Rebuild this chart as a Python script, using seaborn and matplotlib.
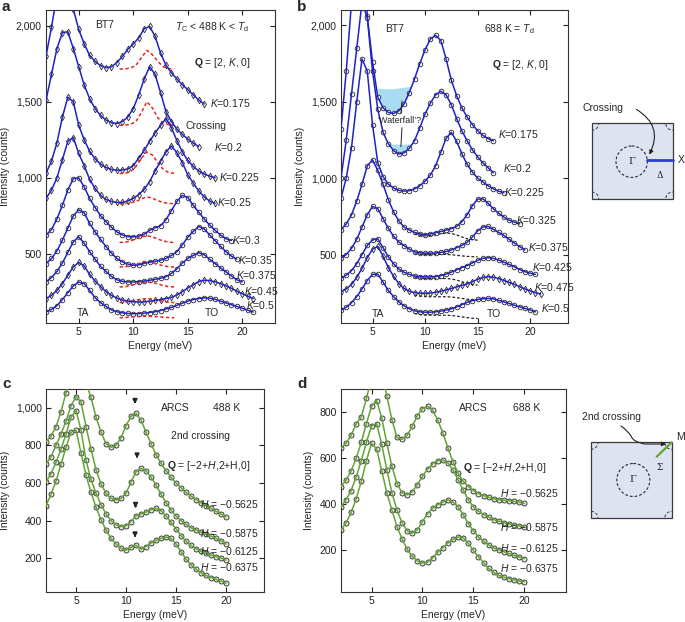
import numpy as np
import pandas as pd
import matplotlib.pyplot as plt
import seaborn as sns
from matplotlib.ticker import FuncFormatter
from matplotlib.patches import Rectangle, Circle, FancyArrowPatch
from matplotlib.path import Path

# energy grid shared by every panel (meV); each curve uses the first len(values) points
energy = [2.0, 2.5, 3.0, 3.5, 4.0, 4.5, 5.0, 5.5, 6.0, 6.5, 7.0, 7.5, 8.0, 8.5,
          9.0, 9.5, 10.0, 10.5, 11.0, 11.5, 12.0, 12.5, 13.0, 13.5, 14.0, 14.5,
          15.0, 15.5, 16.0, 16.5, 17.0, 17.5, 18.0, 18.5, 19.0, 19.5, 20.0, 20.5, 21.0]

# ---- panel a : BT7, Tc < 488 K < Td, Q = [2, K, 0]
a_k0175 = [1800, 1990, 2200, 2380, 2330, 2110, 1975, 1880, 1805, 1765, 1738, 1724, 1730, 1758, 1798,
           1845, 1880, 1920, 1980, 1995, 1930, 1820, 1740, 1690, 1650, 1612, 1580, 1545, 1512, 1485]
a_k0200 = [1510, 1680, 1850, 1955, 1960, 1850, 1730, 1610, 1520, 1455, 1410, 1380, 1362, 1357, 1370,
           1400, 1455, 1545, 1650, 1730, 1680, 1560, 1435, 1370, 1320, 1285, 1255, 1228, 1205]
a_k0225 = [1030, 1110, 1230, 1400, 1530, 1500, 1345, 1250, 1175, 1125, 1090, 1068, 1055, 1050, 1052,
           1058, 1080, 1130, 1180, 1240, 1295, 1345, 1390, 1330, 1245, 1170, 1115, 1075, 1045, 1025,
           1012, 1000]
a_k0250 = [865, 920, 1000, 1120, 1240, 1265, 1160, 1080, 990, 930, 885, 858, 845, 838, 838, 848, 865,
           890, 925, 975, 1045, 1110, 1170, 1210, 1165, 1100, 1020, 965, 915, 875, 848, 832]
a_k0300 = [623, 660, 730, 820, 920, 995, 1000, 940, 865, 805, 752, 712, 675, 645, 625, 614, 612, 617,
           630, 655, 672, 685, 725, 785, 845, 885, 870, 820, 775, 730, 690, 655, 625, 600, 588]
a_k0350 = [436, 470, 520, 590, 670, 750, 790, 770, 700, 645, 595, 548, 505, 470, 448, 433, 425, 428,
           438, 447, 452, 458, 470, 490, 515, 560, 610, 648, 680, 665, 625, 588, 550, 515, 485, 465]
a_k0375 = [316, 345, 385, 440, 510, 580, 612, 570, 515, 465, 418, 385, 352, 330, 320, 316, 316, 318,
           322, 327, 333, 340, 350, 372, 402, 440, 470, 490, 508, 495, 465, 437, 408, 382, 355, 330, 316]
a_k0450 = [206, 228, 260, 305, 360, 415, 445, 420, 365, 322, 285, 252, 228, 210, 197, 190, 186, 184,
           185, 189, 194, 200, 207, 215, 230, 252, 276, 297, 318, 327, 325, 317, 305, 290, 274, 255,
           238, 222, 206]
a_k0500 = [118, 135, 160, 200, 245, 290, 315, 305, 260, 212, 180, 155, 132, 120, 113, 109, 107, 108,
           111, 115, 120, 128, 138, 149, 162, 176, 190, 200, 207, 211, 209, 202, 190, 178, 166, 155,
           143, 130, 118]
a_k_text = ['0.175', '0.2', '0.225', '0.25', '0.3', '0.35', '0.375', '0.45', '0.5']

# red dashed component (panel a)
red_energy = [8.75, 9.25, 9.75, 10.25, 10.75, 11.25, 11.75, 12.25, 12.75, 13.25, 13.75]
red_k0175 = [1715, 1716, 1722, 1740, 1790, 1838, 1810, 1765, 1730, 1718, 1715]
red_k0200 = [1345, 1347, 1352, 1370, 1430, 1500, 1460, 1395, 1360, 1350, 1347]
red_k0225 = [1028, 1030, 1040, 1075, 1130, 1170, 1150, 1100, 1055, 1035, 1030]
red_k0250 = [830, 831, 835, 845, 862, 875, 866, 850, 838, 832, 830]
red_k0300 = [575, 577, 585, 600, 612, 620, 612, 598, 585, 578, 575]
red_k0350 = [414, 416, 422, 432, 442, 447, 442, 432, 422, 416, 414]
red_k0375 = [283, 285, 292, 303, 312, 316, 312, 303, 292, 285, 283]
red_k0450 = [180, 182, 188, 196, 203, 206, 203, 196, 188, 182, 180]
red_k0500 = [80, 82, 85, 88, 90, 90, 89, 87, 84, 82, 80]

# ---- panel b : BT7, 688 K = Td
b_k0175 = [1320, 1700, 2150, 2600, 2700, 2060, 1760, 1530, 1460, 1430, 1423, 1440, 1485, 1560, 1650,
           1750, 1840, 1910, 1935, 1900, 1780, 1640, 1540, 1460, 1400, 1350, 1310, 1280, 1258, 1245]
b_k0200 = [1000, 1250, 1550, 1850, 2150, 2050, 1700, 1450, 1300, 1225, 1180, 1157, 1165, 1195, 1245,
           1330, 1420, 1490, 1545, 1568, 1545, 1480, 1390, 1310, 1245, 1185, 1140, 1100, 1068, 1035]
b_k0225 = [870, 1000, 1200, 1500, 1780, 1700, 1350, 1100, 1010, 960, 935, 920, 915, 918, 930, 950,
           980, 1020, 1080, 1170, 1260, 1300, 1240, 1160, 1090, 1040, 1000, 975, 950, 930, 915, 904]
b_k0325 = [662, 700, 760, 850, 960, 1080, 1120, 1050, 960, 860, 780, 720, 680, 660, 645, 635, 630,
           635, 643, 651, 660, 670, 684, 715, 760, 820, 862, 865, 835, 800, 770, 745, 725, 712, 700]
b_k0375 = [476, 500, 540, 600, 680, 760, 815, 800, 735, 672, 620, 582, 558, 535, 518, 512, 509, 509,
           510, 514, 520, 530, 545, 560, 580, 615, 655, 680, 684, 665, 645, 625, 600, 575, 552, 530]
b_k0425 = [344, 365, 395, 440, 500, 560, 595, 603, 545, 485, 440, 405, 384, 370, 360, 355, 354, 354,
           356, 362, 372, 385, 400, 415, 428, 445, 462, 475, 480, 475, 464, 450, 435, 420, 402, 388,
           378, 370]
b_k0475 = [257, 275, 305, 350, 410, 480, 535, 553, 490, 415, 358, 310, 278, 260, 251, 247, 246, 248,
           253, 260, 268, 278, 288, 298, 308, 322, 338, 350, 355, 352, 343, 330, 318, 305, 290, 275,
           262, 250, 242]
b_k0500 = [136, 155, 185, 225, 275, 330, 370, 372, 320, 265, 225, 190, 165, 145, 132, 125, 123, 123,
           125, 130, 137, 145, 157, 172, 187, 198, 206, 211, 213, 210, 200, 190, 180, 168, 158, 148,
           137, 125]
b_k_text = ['0.175', '0.2', '0.225', '0.325', '0.375', '0.425', '0.475', '0.5']

# black dashed component (panel b)
black_energy = [9.0, 9.5, 10.0, 10.5, 11.0, 11.5, 12.0, 12.5, 13.0, 13.5, 14.0, 14.5, 15.0]
black_k0325 = [635, 626, 622, 624, 630, 636, 640, 638, 628, 615, 603, 597, 594]
black_k0375 = [505, 502, 500, 500, 501, 501, 501, 499, 495, 491, 488, 486, 485]
black_k0425 = [350, 346, 344, 344, 344, 344, 343, 340, 333, 322, 312, 305, 300]
black_k0475 = [236, 228, 225, 224, 224, 224, 224, 222, 218, 213, 208, 204, 202]
black_k0500 = [115, 108, 104, 103, 103, 103, 103, 101, 97, 92, 87, 83, 81]

# "waterfall" shaded regions (upper edge of the data above the fit)
fall1_energy = [5.5, 6.0, 6.5, 7.0, 7.5, 8.0, 8.5, 9.0]
fall1_top = [1590, 1585, 1585, 1585, 1590, 1595, 1600, 1610]
fall2_energy = [6.5, 7.0, 7.5, 8.0, 8.5, 9.0]
fall2_top = [1225, 1222, 1222, 1222, 1224, 1228]

# ---- panel c : ARCS 488 K, Q = [-2+H, 2+H, 0]
c_h05625 = [820, 850, 900, 980, 1080, 1170, 1230, 1200, 1130, 1055, 950, 870, 810, 790, 800, 840,
            905, 955, 970, 935, 870, 810, 750, 705, 665, 630, 600, 575, 550, 530, 512, 495, 480, 465,
            450, 435, 420]
c_h05875 = [700, 740, 800, 860, 930, 1010, 1060, 1030, 900, 780, 670, 595, 545, 518, 510, 518, 545,
            605, 660, 678, 665, 630, 590, 540, 495, 455, 425, 400, 380, 362, 350, 338, 327, 317, 305,
            292, 275]
c_h06125 = [605, 650, 710, 780, 860, 950, 985, 880, 720, 620, 545, 485, 435, 400, 378, 368, 372, 395,
            425, 435, 445, 458, 465, 452, 425, 390, 355, 320, 290, 268, 250, 237, 226, 216, 208, 200,
            190]
c_h06375 = [480, 540, 610, 700, 790, 870, 880, 760, 640, 550, 470, 405, 350, 305, 275, 252, 243, 258,
            268, 248, 262, 280, 295, 305, 312, 305, 275, 235, 195, 165, 140, 122, 108, 97, 88, 78, 67]
h_text = ['\u22120.5625', '\u22120.5875', '\u22120.6125', '\u22120.6375']
arrow_e = [10.9, 11.1, 10.95, 10.9]
arrow_tail = [1055, 765, 498, 340]
arrow_tip = [1005, 715, 452, 295]

# ---- panel d : ARCS 688 K
d_h05625 = [643, 665, 700, 750, 780, 860, 945, 1000, 975, 870, 767, 690, 682, 700, 738, 785, 815,
            825, 808, 765, 710, 645, 585, 535, 500, 477, 460, 447, 438, 431, 424, 420, 418, 416, 413,
            409, 404]
d_h05875 = [477, 505, 545, 600, 670, 750, 825, 850, 775, 665, 565, 490, 450, 442, 455, 485, 522, 552,
            575, 590, 592, 580, 548, 506, 462, 420, 390, 370, 356, 345, 334, 327, 321, 316, 311, 307,
            303]
d_h06125 = [390, 420, 460, 520, 590, 670, 740, 750, 660, 550, 450, 375, 320, 285, 275, 290, 325, 360,
            383, 398, 410, 419, 410, 390, 355, 317, 285, 258, 240, 225, 211, 203, 195, 187, 179, 172,
            165]
d_h06375 = [289, 320, 365, 425, 500, 590, 665, 640, 545, 450, 375, 303, 250, 205, 175, 155, 145, 150,
            168, 192, 212, 232, 248, 258, 255, 231, 200, 173, 147, 122, 105, 92, 84, 78, 73, 68, 64]

# ---------------------------------------------------------------- style
sns.set_theme(style='ticks')
plt.rcParams['font.family'] = ['Liberation Sans', 'DejaVu Sans']
plt.rcParams['mathtext.fontset'] = 'custom'
plt.rcParams['mathtext.rm'] = 'Liberation Sans'
plt.rcParams['mathtext.it'] = 'Liberation Sans:italic'
plt.rcParams['mathtext.bf'] = 'Liberation Sans:bold'
plt.rcParams['axes.linewidth'] = 0.8
plt.rcParams['axes.edgecolor'] = '#333333'

FS = 7.5
BLUE = '#2121c4'
RED = '#e8261e'
GREEN = '#63a436'
MINUS = '\u2212'
comma = FuncFormatter(lambda v, p: f'{int(v):,}')
q_arcs = r'$\mathbf{Q}$ = [' + MINUS + r'2+$H$,2+H,0]'


def draw_fit(ax, x, y, color, marker='o', face='white', size=11):
    sns.scatterplot(x=x, y=y, ax=ax, marker=marker, s=size, color=face,
                    edgecolor='#262626', linewidth=0.6, zorder=2, legend=False)
    sns.lineplot(x=x, y=y, ax=ax, color=color, linewidth=1.1, zorder=3,
                 errorbar=None, legend=False)


def style_axes(ax, xlim, ylim, yticks):
    ax.set_xlim(*xlim)
    ax.set_ylim(*ylim)
    ax.set_xticks([5, 10, 15, 20])
    ax.set_yticks(yticks)
    ax.yaxis.set_major_formatter(comma)
    ax.tick_params(direction='in', top=True, right=True, length=3.5, width=0.8,
                   labelsize=FS, pad=3, colors='#222222')
    ax.set_xlabel('Energy (meV)', fontsize=FS, labelpad=3)
    ax.set_ylabel('Intensity (counts)', fontsize=FS, labelpad=4)


fig = plt.figure(figsize=(6.85, 6.22), dpi=100)
ax_a = fig.add_axes([0.0672, 0.4807, 0.3343, 0.5032])
ax_b = fig.add_axes([0.4978, 0.4807, 0.3314, 0.5032])
ax_c = fig.add_axes([0.0672, 0.0482, 0.3182, 0.3264])
ax_d = fig.add_axes([0.4978, 0.0482, 0.3285, 0.3264])

# ---- panel a
a_curves = [a_k0175, a_k0200, a_k0225, a_k0250, a_k0300, a_k0350, a_k0375, a_k0450, a_k0500]
a_reds = [red_k0175, red_k0200, red_k0225, red_k0250, red_k0300, red_k0350, red_k0375,
          red_k0450, red_k0500]
a_marks = ['d', 'd', 'd', 'd', 'o', 'o', 'o', 'd', 'o']
a_label_pos = [(17.05, 1490), (17.4, 1200), (17.9, 1005), (17.7, 840), (19.1, 590),
               (19.6, 458), (19.45, 360), (20.2, 254), (20.35, 162)]
for vals, red, mk, txt, pos in zip(a_curves, a_reds, a_marks, a_k_text, a_label_pos):
    draw_fit(ax_a, energy[:len(vals)], vals, BLUE, marker=mk)
    sns.lineplot(x=red_energy, y=red, ax=ax_a, color=RED, linewidth=1.1,
                 linestyle=(0, (2.2, 1.6)), zorder=2.5, errorbar=None)
    ax_a.text(pos[0], pos[1], '$K$=' + txt, fontsize=FS, ha='left', va='center')
style_axes(ax_a, (2, 23), (46, 2103), [500, 1000, 1500, 2000])
ax_a.text(7.4, 2005, 'BT7', fontsize=FS, ha='center', va='center')
ax_a.text(17.25, 1990, r'$T_\mathrm{C}$ < 488 K < $T_\mathrm{d}$', fontsize=FS, ha='center', va='center')
ax_a.text(18.2, 1755, r'$\mathbf{Q}$ = [2, $K$, 0]', fontsize=FS, ha='center', va='center')
ax_a.text(16.7, 1340, 'Crossing', fontsize=FS, ha='center', va='center')
ax_a.text(5.4, 110, 'TA', fontsize=FS, ha='center', va='center')
ax_a.text(17.2, 110, 'TO', fontsize=FS, ha='center', va='center')

# ---- panel b
b_curves = [b_k0175, b_k0200, b_k0225, b_k0325, b_k0375, b_k0425, b_k0475, b_k0500]
b_marks = ['o', 'o', 'o', 'o', 'o', 'o', 'd', 'o']
b_label_pos = [(16.9, 1287), (17.4, 1068), (17.5, 908), (18.65, 724), (19.76, 552),
               (20.2, 421), (20.4, 285), (21.0, 147)]
ax_b.fill_between(fall1_energy, b_k0175[7:15], fall1_top, where=np.array(fall1_top) > np.array(b_k0175[7:15]),
                  interpolate=True, color='#a9dcf2', lw=0, zorder=1)
ax_b.fill_between(fall2_energy, b_k0200[9:15], fall2_top, where=np.array(fall2_top) > np.array(b_k0200[9:15]),
                  interpolate=True, color='#a9dcf2', lw=0, zorder=1)
for vals, mk, txt, pos in zip(b_curves, b_marks, b_k_text, b_label_pos):
    draw_fit(ax_b, energy[:len(vals)], vals, BLUE, marker=mk)
    ax_b.text(pos[0], pos[1], '$K$=' + txt, fontsize=FS, ha='left', va='center')
for dash in [black_k0325, black_k0375, black_k0425, black_k0475, black_k0500]:
    sns.lineplot(x=black_energy, y=dash, ax=ax_b, color='#222222', linewidth=0.9,
                 linestyle=(0, (2.2, 1.6)), zorder=2.5, errorbar=None)
style_axes(ax_b, (2, 23.6), (52, 2100), [500, 1000, 1500, 2000])
ax_b.text(7.06, 1978, 'BT7', fontsize=FS, ha='center', va='center')
ax_b.text(18.0, 1978, r'688 K = $T_\mathrm{d}$', fontsize=FS, ha='center', va='center')
ax_b.text(19.1, 1737, r'$\mathbf{Q}$ = [2, $K$, 0]', fontsize=FS, ha='center', va='center')
ax_b.text(7.6, 1378, '\u2018Waterfall\u2019?', fontsize=6.5, ha='center', va='center', zorder=5)
ax_b.plot([7.7, 7.8], [1425, 1505], color='#222222', lw=0.7, zorder=5)
ax_b.plot([7.8, 7.7], [1330, 1205], color='#222222', lw=0.7, zorder=5)
ax_b.text(5.5, 114, 'TA', fontsize=FS, ha='center', va='center')
ax_b.text(16.6, 114, 'TO', fontsize=FS, ha='center', va='center')

# ---- panel c
c_curves = [c_h05625, c_h05875, c_h06125, c_h06375]
c_label_pos = [487, 336, 240, 155]
for vals, txt, ypos in zip(c_curves, h_text, c_label_pos):
    draw_fit(ax_c, energy[:len(vals)], vals, GREEN, face='#dcedcc', size=13)
    ax_c.text(23.3, ypos, '$H$ = ' + txt, fontsize=FS, ha='right', va='center')
for e, t0, t1 in zip(arrow_e, arrow_tail, arrow_tip):
    ax_c.annotate('', xy=(e, t1), xytext=(e, t0),
                  arrowprops=dict(arrowstyle='-|>', color='#222222', lw=1.3, mutation_scale=6))
style_axes(ax_c, (2, 23.8), (20, 1100), [200, 400, 600, 800, 1000])
ax_c.text(14.9, 997, 'ARCS', fontsize=FS, ha='center', va='center')
ax_c.text(20.1, 997, '488 K', fontsize=FS, ha='center', va='center')
ax_c.text(17.4, 850, '2nd crossing', fontsize=FS, ha='center', va='center')
ax_c.text(18.3, 690, q_arcs, fontsize=FS, ha='center', va='center')

# ---- panel d
d_curves = [d_h05625, d_h05875, d_h06125, d_h06375]
d_label_pos = [448, 303, 209, 122]
for vals, txt, ypos in zip(d_curves, h_text, d_label_pos):
    draw_fit(ax_d, energy[:len(vals)], vals, GREEN, face='#dcedcc', size=13)
    ax_d.text(23.4, ypos, '$H$ = ' + txt, fontsize=FS, ha='right', va='center')
style_axes(ax_d, (2, 24.1), (20, 900), [200, 400, 600, 800])
ax_d.text(15.0, 817, 'ARCS', fontsize=FS, ha='center', va='center')
ax_d.text(20.2, 817, '688 K', fontsize=FS, ha='center', va='center')
ax_d.text(18.1, 557, q_arcs, fontsize=FS, ha='center', va='center')

# ---- overlay in pixel coordinates: panel letters and Brillouin-zone sketches
ov = fig.add_axes([0, 0, 1, 1])
ov.set_xlim(0, 685)
ov.set_ylim(622, 0)
ov.set_axis_off()
for letter, (px, py) in zip('abcd', [(2, 0), (297, 0), (2, 377), (297, 377)]):
    ov.text(px, py, letter, fontsize=11, fontweight='bold', ha='left', va='top')


def zone(x0, y0, w, h, cx, cy, r):
    box = Rectangle((x0, y0), w, h, facecolor='#dde3f0', edgecolor='#3a3a3a', lw=0.9, zorder=1)
    ov.add_patch(box)
    for qx, qy in [(x0, y0), (x0 + w, y0), (x0, y0 + h), (x0 + w, y0 + h)]:
        arc = Circle((qx, qy), 7, fill=False, edgecolor='#3a3a3a', lw=0.7,
                     linestyle=(0, (3, 2)), zorder=2)
        ov.add_patch(arc)
        arc.set_clip_path(box)
    ov.add_patch(Circle((cx, cy), r, fill=False, edgecolor='#2a2a2a', lw=0.8,
                        linestyle=(0, (2.5, 1.8)), zorder=2))
    ov.text(cx, cy, '\u0393', fontsize=7, family='DejaVu Serif', ha='center', va='center')


zone(591.7, 123.3, 81, 75.7, 631.7, 161.7, 15.7)
ov.plot([647.5, 672.7], [160, 160], color='#2a3fd0', lw=2.0, zorder=3)
ov.text(681, 160, 'X', fontsize=FS, ha='center', va='center')
ov.text(660, 175, '\u0394', fontsize=6.5, family='DejaVu Serif', ha='center', va='center')
ov.text(603, 108, 'Crossing', fontsize=FS, ha='center', va='center')
ov.add_patch(FancyArrowPatch((634, 108), (648, 157), connectionstyle='arc3,rad=-0.5',
                             arrowstyle='-|>', mutation_scale=6, lw=0.8, color='#222222', zorder=4))

zone(591, 442.3, 80.7, 76, 633.3, 480, 16.5)
ov.plot([656.7, 671.7], [456.7, 442.3], color=GREEN, lw=1.6, zorder=3)
ov.text(681, 437, 'M', fontsize=FS, ha='center', va='center')
ov.text(660, 467, '\u03a3', fontsize=6.5, family='DejaVu Serif', ha='center', va='center')
ov.text(611.7, 416.7, '2nd crossing', fontsize=FS, ha='center', va='center')
squiggle = Path([(621, 426), (627, 430), (631, 436), (633, 442), (645, 444), (666, 444)],
                [Path.MOVETO, Path.CURVE3, Path.CURVE3, Path.CURVE3, Path.CURVE3, Path.LINETO])
ov.add_patch(FancyArrowPatch(path=squiggle, arrowstyle='-|>', mutation_scale=6, lw=0.8,
                             color='#222222', zorder=4))

fig.savefig('out.png', dpi=100)
